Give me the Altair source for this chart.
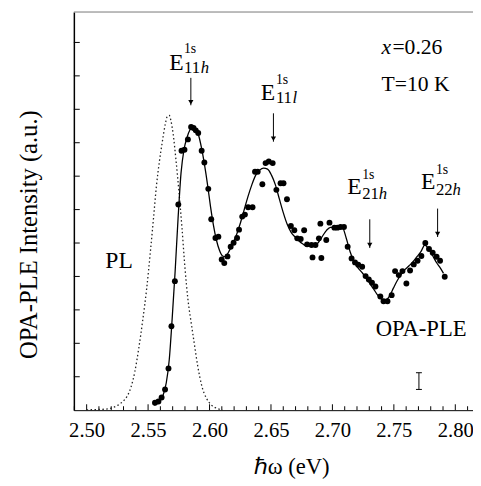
import altair as alt
import pandas as pd

# OPA-PLE measured points (photon energy in eV, intensity a.u.)
dots_E = [2.5556, 2.5584, 2.5610, 2.5638, 2.5666, 2.5690, 2.5718, 2.5746, 2.5772, 2.5796,
          2.5824, 2.5850, 2.5870, 2.5888, 2.5908, 2.5936, 2.5958, 2.5990, 2.6014, 2.6048,
          2.6072, 2.6099, 2.6120, 2.6146, 2.6172, 2.6196, 2.6224, 2.6240, 2.6266, 2.6288,
          2.6314, 2.6350, 2.6370, 2.6392, 2.6430, 2.6456, 2.6482, 2.6514, 2.6544, 2.6578,
          2.6602, 2.6630, 2.6662, 2.6690, 2.6714, 2.6742, 2.6770, 2.6794, 2.6830, 2.6838,
          2.6862, 2.6890, 2.6902, 2.6910, 2.6950, 2.6976, 2.7016, 2.7040, 2.7066, 2.7094,
          2.7124, 2.7156, 2.7184, 2.7210, 2.7242, 2.7270, 2.7296, 2.7322, 2.7350, 2.7390,
          2.7416, 2.7448, 2.7482, 2.7510, 2.7540, 2.7570, 2.7602, 2.7632, 2.7662, 2.7693,
          2.7724, 2.7756, 2.7786, 2.7816, 2.7848, 2.7876, 2.7914]
dots_I = [0.22, 0.26, 0.38, 0.62, 1.25, 2.51, 3.86, 6.15, 7.76, 7.79,
          8.10, 8.47, 8.44, 8.37, 8.29, 7.76, 7.41, 6.62, 5.71, 5.15,
          5.19, 4.51, 4.40, 4.60, 4.89, 5.01, 5.15, 5.40, 5.79, 5.85,
          6.07, 6.07, 7.13, 7.13, 6.76, 7.39, 7.44, 7.39, 6.59, 6.79,
          6.79, 6.31, 5.51, 5.38, 5.14, 5.12, 5.38, 4.96, 4.94, 4.57,
          4.94, 5.14, 5.58, 4.55, 5.09, 5.61, 5.46, 5.46, 5.48, 5.48,
          4.89, 4.54, 4.42, 4.35, 4.29, 4.01, 3.91, 3.81, 3.70, 3.40,
          3.26, 3.26, 3.44, 4.16, 4.04, 4.16, 3.79, 4.18, 4.36, 4.47,
          4.61, 5.00, 4.82, 4.71, 4.59, 4.47, 3.99]

# Solid fit curve through the OPA-PLE data
fit_E = [2.5550, 2.5576, 2.5600, 2.5624, 2.5648, 2.5672, 2.5696, 2.5720, 2.5744, 2.5768,
         2.5792, 2.5816, 2.5840, 2.5864, 2.5888, 2.5912, 2.5936, 2.5960, 2.5984, 2.6008,
         2.6032, 2.6056, 2.6080, 2.6104, 2.6128, 2.6152, 2.6184, 2.6216, 2.6248, 2.6280,
         2.6312, 2.6344, 2.6376, 2.6408, 2.6440, 2.6472, 2.6504, 2.6536, 2.6568, 2.6600,
         2.6632, 2.6664, 2.6696, 2.6728, 2.6760, 2.6792, 2.6824, 2.6856, 2.6888, 2.6920,
         2.6952, 2.6984, 2.7016, 2.7048, 2.7080, 2.7112, 2.7144, 2.7176, 2.7208, 2.7240,
         2.7272, 2.7304, 2.7336, 2.7368, 2.7400, 2.7432, 2.7464, 2.7496, 2.7528, 2.7560,
         2.7592, 2.7624, 2.7656, 2.7688, 2.7720, 2.7752, 2.7784, 2.7816, 2.7848, 2.7880,
         2.7904]
fit_I = [0.15, 0.21, 0.29, 0.47, 0.82, 1.50, 2.74, 4.15, 5.74, 7.09,
         7.79, 8.15, 8.38, 8.47, 8.41, 8.21, 7.82, 7.32, 6.74, 6.09,
         5.53, 5.09, 4.79, 4.62, 4.59, 4.71, 4.94, 5.21, 5.56, 5.97,
         6.38, 6.74, 7.03, 7.18, 7.24, 7.21, 7.03, 6.74, 6.32, 5.91,
         5.56, 5.32, 5.18, 5.06, 4.97, 4.91, 4.91, 4.91, 5.03, 5.21,
         5.38, 5.47, 5.47, 5.47, 5.47, 5.15, 4.74, 4.44, 4.26, 4.12,
         3.97, 3.79, 3.62, 3.44, 3.32, 3.29, 3.41, 3.65, 3.88, 4.06,
         4.21, 4.32, 4.44, 4.59, 4.74, 4.94, 4.82, 4.62, 4.41, 4.24,
         4.09]

# PL spectrum (dotted)
pl_E = [2.5000, 2.5096, 2.5176, 2.5240, 2.5288, 2.5328, 2.5360, 2.5392, 2.5424, 2.5456,
        2.5488, 2.5520, 2.5544, 2.5568, 2.5592, 2.5616, 2.5640, 2.5656, 2.5672, 2.5688,
        2.5704, 2.5728, 2.5752, 2.5776, 2.5800, 2.5824, 2.5848, 2.5872, 2.5904, 2.5936,
        2.5976, 2.6016, 2.6056, 2.6104]
pl_I = [0.01, 0.02, 0.04, 0.12, 0.24, 0.41, 0.68, 1.15, 1.85, 2.68,
        3.62, 4.79, 5.74, 6.71, 7.44, 8.03, 8.56, 8.79, 8.82, 8.62,
        8.26, 7.44, 6.50, 5.44, 4.26, 3.32, 2.68, 2.09, 1.32, 0.74,
        0.35, 0.15, 0.06, 0.01]

x_major = [2.50, 2.55, 2.60, 2.65, 2.70, 2.75, 2.80]
x_minor = [2.49, 2.51, 2.52, 2.53, 2.54, 2.56, 2.57, 2.58, 2.59, 2.61, 2.62, 2.63, 2.64,
           2.66, 2.67, 2.68, 2.69, 2.71, 2.72, 2.73, 2.74, 2.76, 2.77, 2.78, 2.79, 2.81]
y_ticks = [1, 2, 3, 4, 5, 6, 7, 8, 9, 10, 11]

# Transition arrows: energy, arrow top, arrow bottom
arrow_E = [2.5848, 2.6520, 2.7304, 2.7856]
arrow_top = [9.94, 8.88, 5.71, 6.03]
arrow_bot = [9.12, 8.03, 4.85, 5.18]

# Annotation text (upright)
txt_t = ["E", "1s", "11", "E", "1s", "11", "E", "1s", "21", "E", "1s", "22",
         "=0.26", "T=10 K", "PL", "OPA-PLE"]
txt_E = [2.5672, 2.5792, 2.5792, 2.6416, 2.6540, 2.6540, 2.7120, 2.7242, 2.7242,
         2.7720, 2.7842, 2.7842, 2.7488, 2.7400, 2.5152, 2.7352]
txt_I = [10.18, 10.68, 10.10, 9.29, 9.75, 9.18, 6.47, 6.91, 6.33, 6.62, 7.06, 6.45,
         10.65, 9.56, 4.26, 2.21]
txt_fs = [24, 14, 17, 24, 14, 17, 24, 14, 17, 24, 14, 17, 22, 22, 24, 23]
# Annotation text (italic)
it_t = ["h", "l", "h", "h", "x"]
it_E = [2.5928, 2.6676, 2.7378, 2.7978, 2.7400]
it_I = [10.10, 9.18, 6.33, 6.45, 10.65]
it_fs = [17, 17, 17, 17, 22]

# Resolution bar
res_E = [2.7704]
res_lo = [0.62]
res_hi = [1.12]
res_half = 0.0024

W, H = 406, 405
FONT = "Liberation Serif"
xs = alt.Scale(domain=[2.4896, 2.8144], nice=False, zero=False)
ys = alt.Scale(domain=[0, 11.91], nice=False, zero=False)

dots = pd.DataFrame({"E": dots_E, "I": dots_I})
fit = pd.DataFrame({"E": fit_E, "I": fit_I})
pl = pd.DataFrame({"E": pl_E, "I": pl_I})
arr = pd.DataFrame({"E": arrow_E, "top": arrow_top, "bot": arrow_bot})
txt = pd.DataFrame({"E": txt_E, "I": txt_I, "t": txt_t, "fs": txt_fs})
itx = pd.DataFrame({"E": it_E, "I": it_I, "t": it_t, "fs": it_fs})
res = pd.DataFrame({"E": res_E, "lo": res_lo, "hi": res_hi,
                    "El": [e - res_half for e in res_E], "Er": [e + res_half for e in res_E]})

X_TITLE = "ℏω (eV)"
Y_TITLE = "OPA-PLE  Intensity (a.u.)"
x_axis = alt.Axis(values=x_major, format=".2f", title=X_TITLE, titleFont=FONT,
                  titleFontSize=23, titleFontWeight="normal", titleColor="black",
                  titleX=221, titleY=64, titleAlign="center", titleBaseline="alphabetic",
                  labelFont=FONT, labelFontSize=21, labelColor="black", labelPadding=27,
                  labelBaseline="alphabetic", labelFlush=False, labelOverlap=False,
                  ticks=False, tickSize=0, grid=False, domainColor="black", domainWidth=1)
y_axis = alt.Axis(labels=False, ticks=False, tickSize=0, grid=False, domainColor="black",
                  domainWidth=1.5, title=Y_TITLE, titleFont=FONT,
                  titleFontSize=25, titleFontWeight="normal", titleColor="black",
                  titleAngle=270, titleX=-38, titleY=226, titleAlign="center",
                  titleBaseline="alphabetic")


def X(field="E"):
    return alt.X(f"{field}:Q", scale=xs, axis=x_axis, title=X_TITLE)


def Y(field="I"):
    return alt.Y(f"{field}:Q", scale=ys, axis=y_axis, title=Y_TITLE)


dot_layer = alt.Chart(dots).mark_circle(size=36, color="black", opacity=1).encode(x=X(), y=Y())
fit_layer = alt.Chart(fit).mark_line(color="black", strokeWidth=1.3, interpolate="monotone").encode(
    x=X(), y=Y())
pl_layer = alt.Chart(pl).mark_line(color="#222", strokeWidth=1.3, strokeDash=[1.5, 2.5],
                                   interpolate="monotone").encode(x=X(), y=Y())

xmaj = alt.Chart(pd.DataFrame({"E": x_major})).mark_rule(color="black", strokeWidth=1).encode(
    x=X(), y=alt.value(H), y2=alt.value(H - 6))
xmin = alt.Chart(pd.DataFrame({"E": x_minor})).mark_rule(color="black", strokeWidth=1).encode(
    x=X(), y=alt.value(H), y2=alt.value(H - 4))
ytk = alt.Chart(pd.DataFrame({"I": y_ticks})).mark_rule(color="black", strokeWidth=1).encode(
    y=Y(), x=alt.value(0), x2=alt.value(6))
top_frame = alt.Chart(pd.DataFrame({"a": [0]})).mark_rule(color="#777", strokeWidth=1).encode(
    x=alt.value(0), x2=alt.value(W), y=alt.value(0))

arrow_line = alt.Chart(arr).mark_rule(color="black", strokeWidth=1).encode(
    x=X(), y=Y("top"), y2=alt.Y2("bot:Q"))
arrow_head = alt.Chart(arr).mark_point(shape="triangle-down", filled=True, size=28,
                                       color="black", opacity=1, yOffset=-3).encode(
    x=X(), y=Y("bot"))

txt_layer = alt.Chart(txt).mark_text(align="left", baseline="alphabetic", font=FONT,
                                     color="black").encode(
    x=X(), y=Y(), text="t:N", size=alt.Size("fs:Q", scale=None, legend=None))
it_layer = alt.Chart(itx).mark_text(align="left", baseline="alphabetic", font=FONT,
                                    fontStyle="italic", color="black").encode(
    x=X(), y=Y(), text="t:N", size=alt.Size("fs:Q", scale=None, legend=None))

res_v = alt.Chart(res).mark_rule(color="black", strokeWidth=1).encode(
    x=X(), y=Y("lo"), y2=alt.Y2("hi:Q"))
res_lo_cap = alt.Chart(res).mark_rule(color="black", strokeWidth=1).encode(
    x=X("El"), x2=alt.X2("Er:Q"), y=Y("lo"))
res_hi_cap = alt.Chart(res).mark_rule(color="black", strokeWidth=1).encode(
    x=X("El"), x2=alt.X2("Er:Q"), y=Y("hi"))

chart = alt.layer(
    top_frame, xmaj, xmin, ytk, pl_layer, fit_layer, dot_layer,
    arrow_line, arrow_head, txt_layer, it_layer, res_v, res_lo_cap, res_hi_cap
).properties(
    width=W, height=H,
    padding={"left": 67, "top": 0, "right": 0, "bottom": 70},
    autosize=alt.AutoSizeParams(type="none"),
).configure_view(stroke=None)

chart.save("out.html", embed_options={"renderer": "svg", "actions": False})
